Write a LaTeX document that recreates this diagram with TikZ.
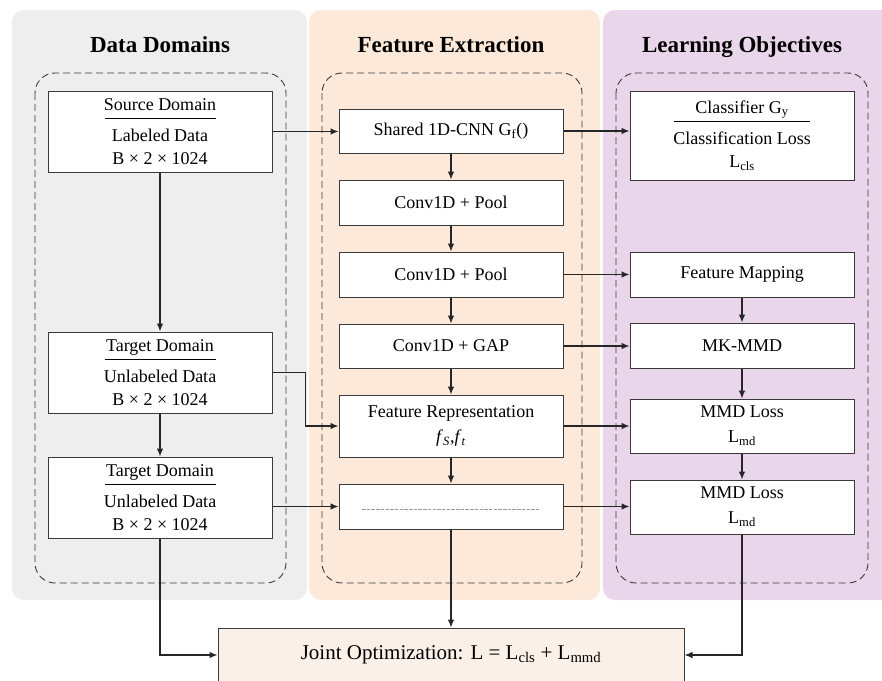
\documentclass[tikz,border=0pt]{standalone}
\usepackage{fontspec}
\setmainfont{Liberation Serif}
\usetikzlibrary{arrows.meta}
\definecolor{panelgray}{HTML}{EEEEEE}
\definecolor{panelpeach}{HTML}{FCE9DA}
\definecolor{panelmauve}{HTML}{EAD6EA}
\definecolor{jointfill}{HTML}{FAF0E8}
\definecolor{edgegray}{HTML}{3A3A3A}
\begin{document}
\begin{tikzpicture}[x=1pt,y=-1pt,
  panel/.style={rounded corners=12pt},
  group/.style={draw=edgegray,dash pattern=on 7pt off 4pt,line width=0.9pt,rounded corners=20pt},
  title/.style={font=\fontsize{23}{27}\selectfont\bfseries,text height=16pt,text depth=5pt},
  block/.style={draw=edgegray,fill=white,line width=1pt,minimum width=224pt,align=center,
    inner sep=0pt,font=\fontsize{18}{23}\selectfont},
  flow/.style={draw=black!85,line width=1.1pt,-{Latex[length=8pt,width=6.5pt]}}]
  \useasboundingbox (0,0) rectangle (882,680);
  \clip (0,0) rectangle (882,680);
  % panels
  \fill[panel,panelgray] (12,10) rectangle (307,600);
  \fill[panel,panelpeach] (309,10) rectangle (600,600);
  \fill[panel,panelmauve] (603,10) rectangle (894,600);
  \node[title] (ttldata) at (160,47) {Data Domains};
  \node[title] (ttlfeat) at (451,47) {Feature Extraction};
  \node[title] (ttlobj) at (742,47) {Learning Objectives};
  % dashed groups
  \draw[group] (35,73) rectangle (286,583);
  \draw[group] (322,73) rectangle (582,583);
  \draw[group] (616,73) rectangle (868,583);
  % data domains
  \node[block,minimum height=81pt] (source) at (160,131.5)
    {Source Domain\\[-15pt]\rule{111pt}{0.6pt}\\Labeled Data\\B × 2 × 1024};
  \node[block,minimum height=81pt] (target1) at (160,372.5)
    {Target Domain\\[-15pt]\rule{111pt}{0.6pt}\\Unlabeled Data\\B × 2 × 1024};
  \node[block,minimum height=81pt] (target2) at (160,497.5)
    {Target Domain\\[-15pt]\rule{111pt}{0.6pt}\\Unlabeled Data\\B × 2 × 1024};
  % feature extraction
  \node[block,minimum height=44pt] (shared) at (451,131) {Shared 1D-CNN G\textsubscript{f}()};
  \node[block,minimum height=45pt] (pool1) at (451,202.5) {Conv1D + Pool};
  \node[block,minimum height=45pt] (pool2) at (451,274.5) {Conv1D + Pool};
  \node[block,minimum height=44pt] (gap) at (451,346) {Conv1D + GAP};
  \node[block,minimum height=62pt,font=\fontsize{18}{25}\selectfont] (featrep) at (451,426)
    {Feature Representation\\\textit{f}\textsubscript{\textit{S}},\textit{f}\textsubscript{\textit{t}}};
  \node[block,minimum height=45pt] (dashbox) at (451,506.5) {};
  \draw[gray!80,dash pattern=on 3.5pt off 1.2pt,line width=0.7pt]
    ([xshift=-89pt,yshift=-2.5pt]dashbox.center) -- ([xshift=88pt,yshift=-2.5pt]dashbox.center);
  % learning objectives
  \node[block,minimum height=89pt] (classifier) at (742,135.5)
    {Classifier G\textsubscript{y}\\[-15pt]\rule{136pt}{0.6pt}\\Classification Loss\\L\textsubscript{cls}};
  \node[block,minimum height=45pt] (featmap) at (742,274.5) {Feature Mapping};
  \node[block,minimum height=45pt] (mkmmd) at (742,345.5) {MK-MMD};
  \node[block,minimum height=54pt,font=\fontsize{18}{25}\selectfont] (loss1) at (742,426)
    {MMD Loss\\L\textsubscript{md}};
  \node[block,minimum height=54pt,font=\fontsize{18}{25}\selectfont] (loss2) at (742,507)
    {MMD Loss\\L\textsubscript{md}};
  % joint
  \node[draw=edgegray,fill=jointfill,line width=1pt,minimum width=466pt,minimum height=54pt,
    inner sep=0pt,font=\fontsize{21}{24}\selectfont] (joint) at (451,655)
    {Joint Optimization: L = L\textsubscript{cls} + L\textsubscript{mmd}};
  % connectors
  \draw[flow] (source.east) -- (source.east -| shared.west);
  \draw[flow] (shared.east) -- (shared.east -| classifier.west);
  \draw[flow] (source) -- (target1);
  \draw[flow] (target1) -- (target2);
  \draw[flow] (target1.east) -- ++(33,0) |- (featrep.west);
  \draw[flow] (dashbox.west -| target2.east) -- (dashbox.west);
  \foreach \a/\b in {shared/pool1,pool1/pool2,pool2/gap,gap/featrep,featrep/dashbox,
    featmap/mkmmd,mkmmd/loss1,loss1/loss2}
    \draw[flow] (\a) -- (\b);
  \draw[flow] (pool2.east) -- (featmap.west);
  \draw[flow] (gap.east) -- (gap.east -| mkmmd.west);
  \draw[flow] (featrep.east) -- (loss1.west);
  \draw[flow] (dashbox.east) -- (dashbox.east -| loss2.west);
  \draw[flow] (target2.south) |- (joint.west);
  \draw[flow] (dashbox.south) -- (joint.north);
  \draw[flow] (loss2.south) |- (joint.east);
\end{tikzpicture}
\end{document}
